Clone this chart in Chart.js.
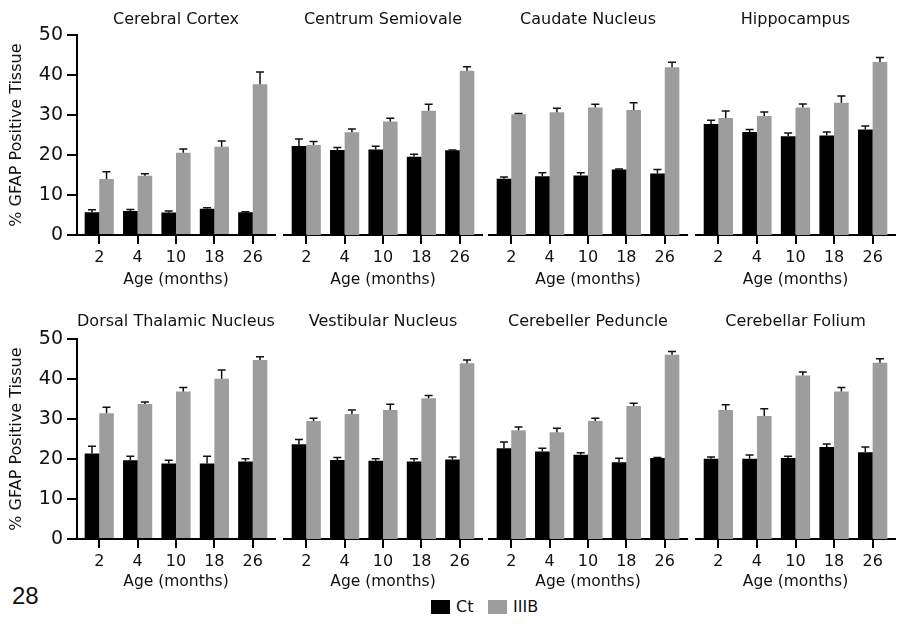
<!DOCTYPE html>
<html><head><meta charset="utf-8">
<script src="https://cdn.jsdelivr.net/npm/chart.js@4.4.1/dist/chart.umd.min.js"></script>
<style>
body{margin:0;background:#fff;width:900px;height:625px;position:relative;overflow:hidden;font-family:'DejaVu Sans',sans-serif;color:#111;}
canvas{position:absolute;}
.pagenum{position:absolute;left:12px;top:582px;font-family:'Liberation Sans',sans-serif;font-size:24px;color:#111;}
.lg{position:absolute;top:600px;height:14px;}
.lt{position:absolute;top:597px;font-size:16px;}
</style></head><body>
<div class="pagenum">28</div>
<div class="lg" style="left:431px;width:19px;background:#000"></div>
<div class="lt" style="left:456px">Ct</div>
<div class="lg" style="left:488px;width:19px;background:#9d9d9d"></div>
<div class="lt" style="left:513px">IIIB</div>
<script>
const ages = ['2', '4', '10', '18', '26'];
const titles = ['Cerebral Cortex', 'Centrum Semiovale', 'Caudate Nucleus', 'Hippocampus',
  'Dorsal Thalamic Nucleus', 'Vestibular Nucleus', 'Cerebeller Peduncle', 'Cerebellar Folium'];
const seriesNames = ['Ct', 'IIIB'];
const yTicks = [0, 10, 20, 30, 40, 50];

const cortexCt = [5.7, 6.0, 5.6, 6.6, 5.7];
const cortexCtErr = [0.6, 0.4, 0.4, 0.2, 0.1];
const cortexIIIB = [14.0, 14.8, 20.6, 22.1, 37.7];
const cortexIIIBErr = [1.8, 0.5, 0.9, 1.4, 3.1];

const semiovaleCt = [22.3, 21.3, 21.4, 19.6, 21.2];
const semiovaleCtErr = [1.7, 0.6, 0.8, 0.6, 0.1];
const semiovaleIIIB = [22.5, 25.7, 28.4, 31.1, 41.1];
const semiovaleIIIBErr = [0.9, 0.8, 0.8, 1.6, 1.0];

const caudateCt = [14.1, 14.7, 14.9, 16.4, 15.4];
const caudateCtErr = [0.4, 0.9, 0.7, 0.1, 1.0];
const caudateIIIB = [30.2, 30.7, 31.9, 31.3, 42.0];
const caudateIIIBErr = [0.2, 1.0, 0.8, 1.8, 1.2];

const hippoCt = [27.8, 25.8, 24.7, 24.9, 26.4];
const hippoCtErr = [0.9, 0.6, 0.8, 0.9, 0.9];
const hippoIIIB = [29.3, 29.8, 31.9, 33.1, 43.3];
const hippoIIIBErr = [1.7, 1.0, 0.9, 1.7, 1.1];

const thalamicCt = [21.4, 19.7, 18.9, 18.9, 19.4];
const thalamicCtErr = [1.8, 1.0, 0.8, 1.8, 0.7];
const thalamicIIIB = [31.5, 33.8, 36.9, 40.1, 44.8];
const thalamicIIIBErr = [1.5, 0.5, 1.0, 2.2, 0.8];

const vestibularCt = [23.7, 19.8, 19.6, 19.4, 19.9];
const vestibularCtErr = [1.2, 0.6, 0.5, 0.7, 0.6];
const vestibularIIIB = [29.5, 31.3, 32.3, 35.2, 44.0];
const vestibularIIIBErr = [0.7, 1.0, 1.4, 0.7, 0.8];

const peduncleCt = [22.7, 21.9, 21.1, 19.2, 20.3];
const peduncleCtErr = [1.6, 0.8, 0.5, 1.0, 0.1];
const peduncleIIIB = [27.2, 26.7, 29.5, 33.3, 46.1];
const peduncleIIIBErr = [0.8, 1.0, 0.7, 0.7, 0.8];

const foliumCt = [20.1, 20.1, 20.3, 23.0, 21.7];
const foliumCtErr = [0.4, 0.9, 0.4, 0.8, 1.3];
const foliumIIIB = [32.3, 30.8, 40.9, 36.9, 44.1];
const foliumIIIBErr = [1.3, 1.8, 0.9, 1.0, 1.0];

const panels = [
  [cortexCt, cortexCtErr, cortexIIIB, cortexIIIBErr],
  [semiovaleCt, semiovaleCtErr, semiovaleIIIB, semiovaleIIIBErr],
  [caudateCt, caudateCtErr, caudateIIIB, caudateIIIBErr],
  [hippoCt, hippoCtErr, hippoIIIB, hippoIIIBErr],
  [thalamicCt, thalamicCtErr, thalamicIIIB, thalamicIIIBErr],
  [vestibularCt, vestibularCtErr, vestibularIIIB, vestibularIIIBErr],
  [peduncleCt, peduncleCtErr, peduncleIIIB, peduncleIIIBErr],
  [foliumCt, foliumCtErr, foliumIIIB, foliumIIIBErr]
];

const cols = [
  {left: 0, width: 280, padL: 0, padR: 5, yAxis: true},
  {left: 280, width: 206, padL: 4, padR: 4},
  {left: 486, width: 206, padL: 3, padR: 5},
  {left: 692, width: 208, padL: 4, padR: 5}
];
const rows = [
  {top: 0, height: 300, tTop: 10, tBot: 6, xH: 65, xTitleBot: 11},
  {top: 300, height: 325, tTop: 12, tBot: 8, xH: 86, xTitleBot: 34}
];

const FONT = 'DejaVu Sans';
const INK = '#111';

const errorBars = {
  id: 'errorBars',
  afterDatasetsDraw(chart) {
    const {ctx} = chart;
    const y = chart.scales.y;
    ctx.save();
    ctx.strokeStyle = INK;
    ctx.lineWidth = 1.5;
    chart.data.datasets.forEach((ds, i) => {
      const meta = chart.getDatasetMeta(i);
      meta.data.forEach((bar, j) => {
        const top = y.getPixelForValue(ds.data[j].y + ds.errors[j]);
        ctx.beginPath();
        ctx.moveTo(bar.x, bar.y);
        ctx.lineTo(bar.x, top);
        ctx.moveTo(bar.x - 4, top);
        ctx.lineTo(bar.x + 4, top);
        ctx.stroke();
      });
    });
    ctx.restore();
  }
};

panels.forEach((p, k) => {
  const r = rows[Math.floor(k / 4)];
  const c = cols[k % 4];
  const cv = document.createElement('canvas');
  cv.width = c.width; cv.height = r.height;
  cv.style.left = c.left + 'px'; cv.style.top = r.top + 'px';
  cv.style.width = c.width + 'px'; cv.style.height = r.height + 'px';
  document.body.appendChild(cv);
  const [ct, ctErr, iiib, iiibErr] = p;
  const yScale = {
    display: !!c.yAxis, min: 0, max: 50,
    afterBuildTicks: s => { s.ticks = yTicks.map(v => ({value: v})); },
    ticks: {color: INK, font: {family: FONT, size: 19}, padding: 4},
    grid: {display: true, drawOnChartArea: false, drawTicks: true, tickLength: 10, tickWidth: 2, tickColor: '#000', lineWidth: 2, color: '#000'},
    border: {display: true, color: '#000', width: 2},
    title: {display: true, text: '% GFAP Positive Tissue', color: INK, font: {family: FONT, size: 16}, padding: {top: 7, bottom: 0}}
  };
  if (c.yAxis) yScale.afterFit = s => { s.width = 77; };
  new Chart(cv, {
    type: 'bar',
    data: {
      datasets: [
        {label: seriesNames[0], data: ct.map((v, i) => ({x: i, y: v})), errors: ctErr,
         backgroundColor: '#000', borderWidth: 0},
        {label: seriesNames[1], data: iiib.map((v, i) => ({x: i, y: v})), errors: iiibErr,
         backgroundColor: '#9d9d9d', borderWidth: 0}
      ]
    },
    options: {
      responsive: false, animation: false, devicePixelRatio: 1,
      categoryPercentage: 0.76, barPercentage: 1.0,
      layout: {padding: {left: c.padL, right: c.padR, top: 0, bottom: 0}},
      plugins: {
        legend: {display: false}, tooltip: {enabled: false},
        title: {display: true, text: titles[k], fullSize: false, color: INK,
          font: {family: FONT, size: 16, weight: 'normal'},
          padding: {top: r.tTop, bottom: r.tBot}}
      },
      scales: {
        x: {
          type: 'linear', min: -0.58, max: 4.58, offset: false,
          afterBuildTicks: s => { s.ticks = ages.map((_, i) => ({value: i})); },
          afterFit: s => { s.height = r.xH; },
          ticks: {callback: v => ages[v], color: INK, font: {family: FONT, size: 16}, padding: 4, maxRotation: 0, autoSkip: false},
          grid: {display: true, offset: false, drawOnChartArea: false, drawTicks: true, tickLength: 9, tickWidth: 2, tickColor: '#000', lineWidth: 2, color: '#000'},
          border: {display: true, color: '#000', width: 2},
          title: {display: true, text: 'Age (months)', color: INK, font: {family: FONT, size: 15.5}, padding: {top: 0, bottom: r.xTitleBot}}
        },
        y: yScale
      }
    },
    plugins: [errorBars]
  });
});
</script>
</body></html>
